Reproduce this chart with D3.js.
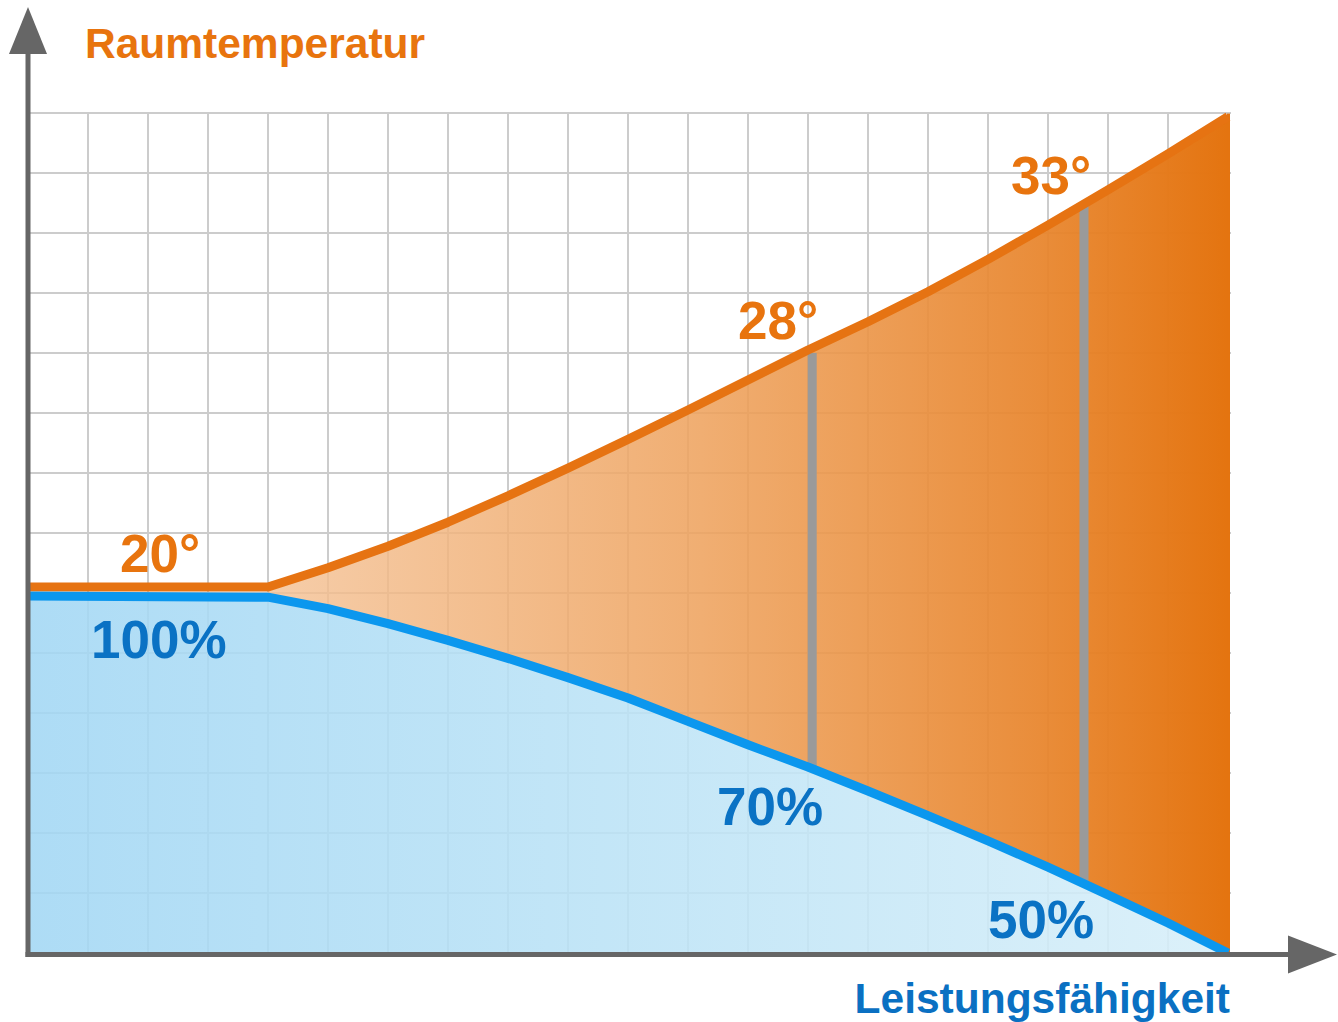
<!DOCTYPE html>
<html>
<head>
<meta charset="utf-8">
<script src="https://cdn.jsdelivr.net/npm/d3@7"></script>
<style>
  html, body { margin: 0; padding: 0; background: #ffffff; }
  svg { display: block; }
  text { font-family: "Liberation Sans", Arial, Helvetica, sans-serif; font-weight: bold; }
</style>
</head>
<body>
<svg id="chart" width="1338" height="1022"></svg>
<script>
// ---- data (grid units) ----
const steps = [0, 4, 5, 6, 7, 8, 9, 10, 11, 12, 13, 14, 15, 16, 17, 18, 19, 20];
const temperature = [6.1, 6.1, 6.42, 6.78, 7.18, 7.62, 8.08, 8.56, 9.05, 9.55, 10.05, 10.52, 11.02, 11.56, 12.13, 12.72, 13.32, 13.94];
const performance = [5.95, 5.93, 5.74, 5.49, 5.21, 4.91, 4.59, 4.25, 3.86, 3.47, 3.1, 2.7, 2.29, 1.87, 1.43, 0.97, 0.5, 0.0];
const markerX = [13.07, 17.6];
const markerTop = [10.0, 12.45];
const markerBottom = [3.05, 1.2];
const tempLabels = ["20°", "28°", "33°"];
const perfLabels = ["100%", "70%", "50%"];
const yTitle = "Raumtemperatur";
const xTitle = "Leistungsfähigkeit";

const svg = d3.select("#chart");
const x = d3.scaleLinear().domain([0, 20]).range([28, 1228]);
const y = d3.scaleLinear().domain([0, 14]).range([953, 113]);

const defs = svg.append("defs");
const og = defs.append("linearGradient").attr("id", "og")
  .attr("gradientUnits", "userSpaceOnUse")
  .attr("x1", x(4)).attr("x2", x(20)).attr("y1", 0).attr("y2", 0);
[[0, "#f4c296", 0.82], [0.45, "#eea35f", 0.88], [0.8, "#e8862e", 0.94], [1, "#e47410", 1]]
  .forEach(s => og.append("stop").attr("offset", s[0]).attr("stop-color", s[1]).attr("stop-opacity", s[2]));
const bg = defs.append("linearGradient").attr("id", "bg")
  .attr("gradientUnits", "userSpaceOnUse")
  .attr("x1", x(0)).attr("x2", x(20)).attr("y1", 0).attr("y2", 0);
[[0, "#a2d7f4", 0.88], [0.5, "#bce3f6", 0.88], [1, "#d8eff9", 0.9]]
  .forEach(s => bg.append("stop").attr("offset", s[0]).attr("stop-color", s[1]).attr("stop-opacity", s[2]));

// ---- grid ----
const grid = svg.append("g").attr("stroke", "#cccccc").attr("stroke-width", 2);
grid.selectAll("line.v").data(x.ticks(20).filter(d => d > 0)).join("line")
  .attr("x1", d => x(d)).attr("x2", d => x(d)).attr("y1", y(14)).attr("y2", y(0));
grid.selectAll("line.h").data(y.ticks(14).filter(d => d > 0)).join("line")
  .attr("x1", x(0)).attr("x2", x(20) + 3).attr("y1", d => y(d)).attr("y2", d => y(d));

const pts = steps.map((s, i) => ({ s, t: temperature[i], p: performance[i] }));

// blue area
svg.append("path")
  .attr("fill", "url(#bg)")
  .attr("d", d3.area().x(d => x(d.s)).y0(y(0)).y1(d => y(d.p))(pts));

// orange area
const opts = pts.filter(d => d.s >= 4);
svg.append("path")
  .attr("fill", "url(#og)")
  .attr("d", d3.area().x(d => x(d.s)).y0(d => y(d.p)).y1(d => y(d.t))(opts));
svg.append("rect").attr("x", x(20) - 1).attr("width", 3)
  .attr("y", y(temperature[temperature.length - 1]) - 3)
  .attr("height", y(0) - y(temperature[temperature.length - 1]) + 3)
  .attr("fill", "#e47410");

// gray markers
svg.selectAll("line.marker").data(markerX).join("line")
  .attr("x1", d => x(d)).attr("x2", d => x(d))
  .attr("y1", (d, i) => y(markerTop[i])).attr("y2", (d, i) => y(markerBottom[i]))
  .attr("stroke", "#9a9a9a").attr("stroke-width", 9);

// lines
const line = d3.line().x(d => x(d[0])).y(d => y(d[1]));
svg.append("path")
  .attr("d", line(pts.map(d => [d.s, d.t])))
  .attr("fill", "none").attr("stroke", "#e67312").attr("stroke-width", 9).attr("stroke-linejoin", "round");
svg.append("path")
  .attr("d", line(pts.map(d => [d.s, d.p])))
  .attr("fill", "none").attr("stroke", "#0b97ee").attr("stroke-width", 9).attr("stroke-linejoin", "round");

// axes
const axisColor = "#666666";
svg.append("line").attr("x1", x(0)).attr("x2", x(0)).attr("y1", 50).attr("y2", y(0) + 4)
  .attr("stroke", axisColor).attr("stroke-width", 5);
svg.append("line").attr("x1", x(0) - 2.5).attr("x2", 1292).attr("y1", y(0) + 1.5).attr("y2", y(0) + 1.5)
  .attr("stroke", axisColor).attr("stroke-width", 5);
svg.append("path").attr("d", `M${x(0)},7 L47,54 L9,54 Z`).attr("fill", axisColor);
svg.append("path").attr("d", `M1337,${y(0) + 1.5} L1288,${y(0) - 17.5} L1288,${y(0) + 20.5} Z`).attr("fill", axisColor);

// titles
svg.append("text").attr("x", 85).attr("y", 58).attr("font-size", 42.5).attr("fill", "#e8740e").text(yTitle);
svg.append("text").attr("x", 1230).attr("y", 1013).attr("text-anchor", "end").attr("font-size", 42.5).attr("fill", "#0a70c2").text(xTitle);

// value labels
const tempPos = [[120, 572], [738, 339], [1011, 194]];
const perfPos = [[91, 658], [717, 825], [988, 938]];
svg.selectAll("text.tl").data(tempLabels).join("text")
  .attr("x", (d, i) => tempPos[i][0]).attr("y", (d, i) => tempPos[i][1])
  .attr("font-size", 53).attr("fill", "#e8740e").text(d => d);
svg.selectAll("text.pl").data(perfLabels).join("text")
  .attr("x", (d, i) => perfPos[i][0]).attr("y", (d, i) => perfPos[i][1])
  .attr("font-size", 53).attr("fill", "#0a72c4").text(d => d);
</script>
</body>
</html>
